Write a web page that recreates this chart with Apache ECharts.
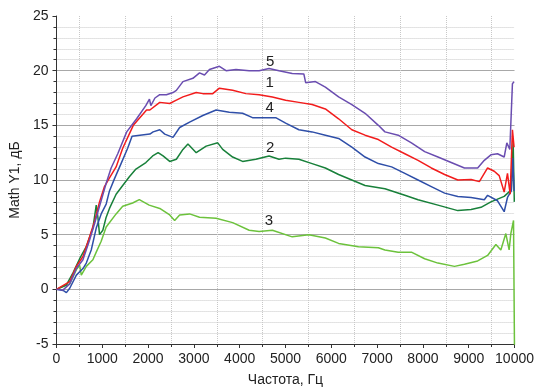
<!DOCTYPE html>
<html>
<head>
<meta charset="utf-8">
<script src="https://cdn.jsdelivr.net/npm/echarts@6/dist/echarts.min.js"></script>
<style>
  html, body { margin: 0; padding: 0; background: #fff; }
  #chart { width: 537px; height: 392px; }
</style>
</head>
<body>
<div id="chart"></div>
<script>
// values: frequency (Hz) and level (dB) per curve
const freq5 = [0, 145, 290, 434, 578, 723, 831, 940, 1085, 1193, 1338, 1533, 1750, 1950, 2030, 2060, 2150, 2255, 2400, 2544, 2617, 2761, 2978, 3123, 3231, 3340, 3557, 3702, 3919, 4207, 4424, 4641, 4858, 5147, 5400, 5440, 5653, 5870, 6159, 6448, 6737, 7027, 7171, 7460, 7749, 8038, 8328, 8617, 8906, 9195, 9340, 9484, 9629, 9774, 9832, 9897, 9954, 9990]
const amp5 = [0, -0.05, 0.5, 1.9, 2.7, 4.5, 6.0, 7.6, 9.7, 11.1, 12.4, 14.4, 15.6, 16.8, 17.4, 16.8, 17.5, 17.8, 17.8, 18.0, 18.2, 19.0, 19.3, 19.8, 19.6, 20.1, 20.4, 20.0, 20.1, 20.0, 20.0, 20.2, 20.0, 19.75, 19.7, 18.9, 19.0, 18.5, 17.6, 16.9, 16.1, 15.0, 14.4, 14.1, 13.4, 12.6, 12.1, 11.6, 11.1, 11.1, 11.8, 12.3, 12.4, 12.1, 13.4, 12.8, 18.8, 19.0]

const freq1 = [0, 289, 434, 578, 723, 831, 940, 1048, 1157, 1302, 1446, 1677, 1967, 2039, 2255, 2472, 2617, 2761, 3051, 3195, 3412, 3557, 3846, 4135, 4424, 4713, 5003, 5292, 5581, 5870, 6159, 6448, 6737, 7027, 7316, 7605, 7894, 8183, 8473, 8762, 9051, 9232, 9412, 9557, 9665, 9774, 9846, 9904, 9954, 9990]
const amp1 = [0, 0.7, 2.1, 3.0, 4.8, 6.2, 8.0, 9.4, 10.2, 11.2, 12.9, 15.0, 16.4, 16.4, 17.1, 17.0, 17.3, 17.6, 18.0, 17.9, 17.9, 18.4, 18.2, 17.9, 17.8, 17.6, 17.3, 17.1, 16.9, 16.5, 15.6, 14.6, 14.1, 13.7, 13.0, 12.4, 11.8, 11.1, 10.5, 10.0, 10.05, 9.85, 11.1, 10.8, 10.4, 8.9, 10.6, 8.7, 14.6, 13.0]

const freq4 = [0, 145, 217, 289, 434, 578, 651, 759, 868, 976, 1085, 1157, 1265, 1410, 1554, 1650, 1822, 2039, 2110, 2255, 2364, 2544, 2689, 2906, 3195, 3485, 3774, 4063, 4279, 4568, 4786, 5003, 5292, 5581, 5870, 6159, 6448, 6737, 7027, 7316, 7605, 7894, 8183, 8473, 8762, 9051, 9340, 9412, 9629, 9774, 9846, 9930, 9960, 9990]
const amp4 = [0, -0.1, -0.3, 0.1, 1.3, 1.9, 2.4, 3.6, 5.6, 6.9, 7.8, 9.0, 10.1, 11.5, 12.9, 14.0, 14.1, 14.2, 14.4, 14.6, 14.2, 13.9, 14.8, 15.3, 15.9, 16.4, 16.2, 16.1, 15.7, 15.7, 15.7, 15.2, 14.6, 14.4, 14.1, 13.8, 13.0, 12.1, 11.5, 11.2, 10.6, 10.0, 9.4, 8.8, 8.5, 8.4, 8.2, 8.6, 8.1, 7.1, 8.4, 9.0, 12.0, 9.0]

const freq2 = [0, 217, 361, 506, 651, 795, 868, 904, 940, 1012, 1085, 1157, 1302, 1446, 1591, 1735, 1952, 2100, 2219, 2327, 2472, 2617, 2761, 2870, 3051, 3268, 3521, 3629, 3846, 4063, 4352, 4641, 4858, 5003, 5292, 5581, 5870, 6159, 6448, 6737, 7171, 7605, 7894, 8328, 8762, 9051, 9268, 9484, 9774, 9930, 9970, 9995]
const amp2 = [0, 0.4, 1.5, 2.8, 3.9, 5.6, 7.7, 6.6, 5.0, 5.4, 6.6, 7.4, 8.7, 9.5, 10.3, 11.0, 11.6, 12.2, 12.5, 12.2, 11.7, 11.9, 12.8, 13.3, 12.5, 13.1, 13.4, 12.8, 12.1, 11.7, 11.9, 12.2, 11.9, 12.0, 11.9, 11.5, 11.1, 10.5, 10.0, 9.5, 9.2, 8.6, 8.2, 7.7, 7.2, 7.3, 7.5, 8.0, 8.5, 9.1, 13.5, 8.0]

const freq3 = [0, 289, 434, 506, 542, 651, 795, 868, 976, 1085, 1302, 1446, 1663, 1808, 2024, 2255, 2472, 2580, 2689, 2906, 3123, 3485, 3846, 4207, 4424, 4713, 5147, 5509, 5870, 6159, 6593, 7027, 7171, 7460, 7749, 8038, 8328, 8690, 8906, 9195, 9412, 9593, 9701, 9810, 9882, 9919, 9978, 10000]
const amp3 = [0, 0.5, 1.8, 2.2, 1.3, 2.1, 2.7, 3.4, 4.4, 5.7, 6.9, 7.6, 7.9, 8.2, 7.7, 7.4, 6.8, 6.3, 6.8, 6.9, 6.6, 6.5, 6.1, 5.4, 5.3, 5.4, 4.8, 5.0, 4.7, 4.2, 3.9, 3.8, 3.6, 3.4, 3.4, 2.8, 2.4, 2.1, 2.3, 2.6, 3.1, 4.1, 3.6, 5.1, 3.6, 5.1, 6.3, -6]

const curveNames = ['5', '1', '4', '2', '3']
const curveColors = ['#6a4db0', '#f21c1c', '#2f4fa8', '#18803a', '#6cc23c']
const labelFreq = [4666, 4656, 4656, 4666, 4640]
const labelAmp = [20.8, 18.9, 16.6, 12.9, 6.3]

const xTicks = { min: 0, max: 10000, step: 1000 }
const yTicks = { min: -5, max: 25, step: 5 }

const pairs = (xs, ys) => xs.map((x, i) => [x, ys[i]])
const curves = [pairs(freq5, amp5), pairs(freq1, amp1), pairs(freq4, amp4), pairs(freq2, amp2), pairs(freq3, amp3)]

const chart = echarts.init(document.getElementById('chart'))

const font = "'Liberation Sans', Arial, sans-serif"

const option = {
  animation: false,
  grid: { left: 56, right: 20, top: 16, bottom: 48, containLabel: false },
  xAxis: {
    type: 'value',
    min: xTicks.min,
    max: xTicks.max,
    interval: xTicks.step,
    name: 'Частота, Гц',
    nameLocation: 'middle',
    nameGap: 29,
    nameTextStyle: { fontFamily: font, fontSize: 14, color: '#222' },
    axisLine: { show: true, onZero: false, lineStyle: { color: '#333', width: 1 } },
    axisTick: { show: true, length: 4, lineStyle: { color: '#333' } },
    minorTick: { show: true, splitNumber: 2, length: 3, lineStyle: { color: '#333' } },
    axisLabel: {
      fontFamily: font,
      fontSize: 14,
      color: '#222',
      margin: 8,
      formatter: (v) => String(v),
    },
    splitLine: { show: false },
    minorSplitLine: { show: true, lineStyle: { color: '#c8c8c8', type: 'dotted', width: 1 } },
  },
  yAxis: {
    type: 'value',
    min: yTicks.min,
    max: yTicks.max,
    interval: yTicks.step,
    name: 'Math Y1, дБ',
    nameLocation: 'middle',
    nameGap: 29,
    nameTextStyle: { fontFamily: font, fontSize: 14, color: '#222' },
    axisLine: { show: true, lineStyle: { color: '#333', width: 1 } },
    axisTick: { show: true, length: 4, lineStyle: { color: '#333' } },
    minorTick: { show: true, splitNumber: 5, length: 3, lineStyle: { color: '#333' } },
    axisLabel: { fontFamily: font, fontSize: 14, color: '#222', margin: 8 },
    splitLine: { show: true, showMaxLine: false, lineStyle: { color: '#a8a8a8', width: 1 } },
    minorSplitLine: { show: true, lineStyle: { color: '#c8c8c8', type: 'dotted', width: 1 } },
  },
  series: curves.map((data, i) => ({
    name: curveNames[i],
    type: 'line',
    data: data,
    showSymbol: false,
    clip: true,
    lineStyle: { color: curveColors[i], width: 1.5 },
    z: 10 - i,
    markPoint: {
      symbol: 'circle',
      symbolSize: 0,
      silent: true,
      label: {
        show: true,
        position: 'inside',
        formatter: curveNames[i],
        fontFamily: font,
        fontSize: 15,
        color: '#222',
      },
      data: [{ coord: [labelFreq[i], labelAmp[i]] }],
    },
  })),
}

chart.setOption(option)
</script>
</body>
</html>
